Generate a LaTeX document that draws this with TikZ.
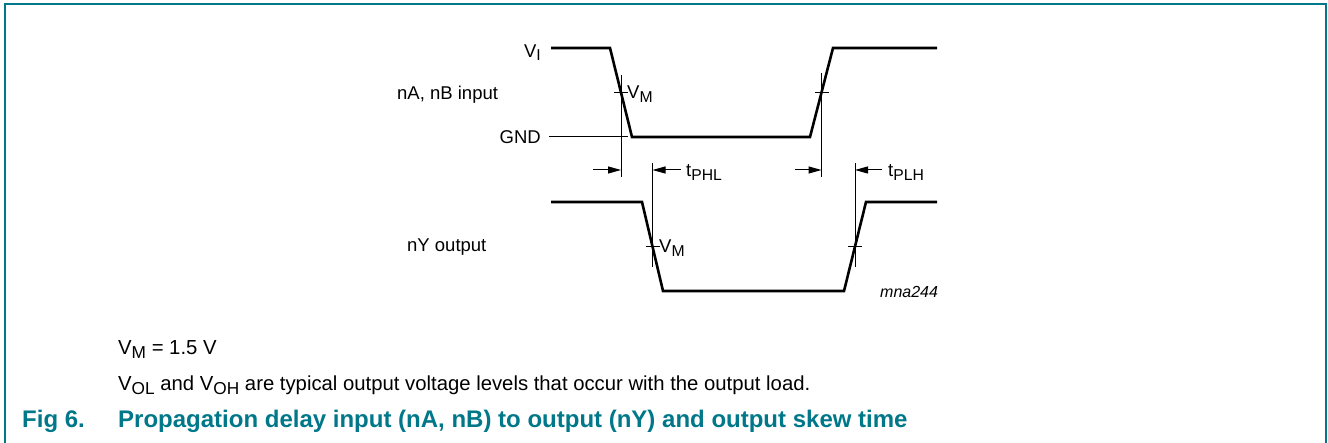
\documentclass[tikz,border=0pt]{standalone}
\usepackage{fontspec}
\setmainfont{Liberation Sans}
\usetikzlibrary{arrows.meta}
\definecolor{nxpteal}{RGB}{0,120,138}
\newcommand\sbs[1]{\raisebox{-0.32ex}{\scalebox{0.85}{#1}}}
\begin{document}
\begin{tikzpicture}[x=1pt,y=-1pt,
  wave/.style={line width=2.6pt, line join=miter},
  thinline/.style={line width=1pt},
  arr/.style={line width=1pt,-{Triangle[length=13pt,width=7pt]}},
  lbl/.style={inner sep=0pt,font=\fontsize{18.5}{18.5}\selectfont},
  note/.style={inner sep=0pt,anchor=base west,font=\fontsize{20.3}{20.3}\selectfont},
  captext/.style={inner sep=0pt,anchor=base west,text=nxpteal,font=\fontsize{24}{24}\selectfont\bfseries},
]
\useasboundingbox (0,0) rectangle (1328,443);
% frame
\draw[nxpteal,line width=1.2pt] (5,443) -- (5,4.5) (1326,4.5) -- (1326,443);
\draw[nxpteal,line width=2pt] (4.4,4.5) -- (1326.6,4.5);
% waveforms
\draw[wave] (551,48) -- (610,48) -- (632,137) -- (810,137) -- (833,48) -- (937,48);
\draw[thinline] (549,137) -- (628,137);
\draw[wave] (551,202) -- (642,202) -- (663,291) -- (844,291) -- (866,202) -- (937,202);
% measurement verticals and ticks
\draw[thinline] (621,75) -- (621,177) (614,92.5) -- (628,92.5);
\draw[thinline] (821.5,73) -- (821.5,177) (814.5,92.5) -- (828.5,92.5);
\draw[thinline] (652.5,163) -- (652.5,267) (645.5,246.5) -- (659.5,246.5);
\draw[thinline] (855,163) -- (855,267) (848,246.5) -- (862,246.5);
% arrow coordinates
\coordinate (a1s) at (593,170); \coordinate (a1e) at (621,170);
\coordinate (a2s) at (681,170); \coordinate (a2e) at (652.5,170);
\coordinate (a3s) at (795,170); \coordinate (a3e) at (821.5,170);
\coordinate (a4s) at (882,170); \coordinate (a4e) at (855,170);
\draw[arr] (a1s) -- (a1e);
\draw[arr] (a2s) -- (a2e);
\draw[arr] (a3s) -- (a3e);
\draw[arr] (a4s) -- (a4e);
% labels
\node[lbl,anchor=east] (vi) at (541,53) {V\sbs{I}};
\node[lbl,anchor=base west] (inp) at (397,100) {nA, nB input};
\node[lbl,anchor=east] (gnd) at (541,137) {GND};
\node[lbl,anchor=base west] (vm1) at (627,99) {V\sbs{M}};
\node[lbl,anchor=base west] (tphl) at (686,177) {t\sbs{PHL}};
\node[lbl,anchor=base west] (tplh) at (888,177) {t\sbs{PLH}};
\node[lbl,anchor=base west] (vm2) at (659,253) {V\sbs{M}};
\node[lbl,anchor=west] (outp) at (407,247) {nY output};
\node[inner sep=0pt,anchor=base west,font=\fontsize{16}{16}\selectfont\itshape] (mna) at (880,298) {mna244};
% notes
\node[note] (n1) at (118,355) {V\sbs{M} = 1.5 V};
\node[note] (n2) at (118,391) {V\sbs{OL} and V\sbs{OH} are typical output voltage levels that occur with the output load.};
\node[captext] (fig) at (22,428) {Fig 6.};
\node[captext] (title) at (118,428) {Propagation delay input (nA, nB) to output (nY) and output skew time};
\end{tikzpicture}
\end{document}
